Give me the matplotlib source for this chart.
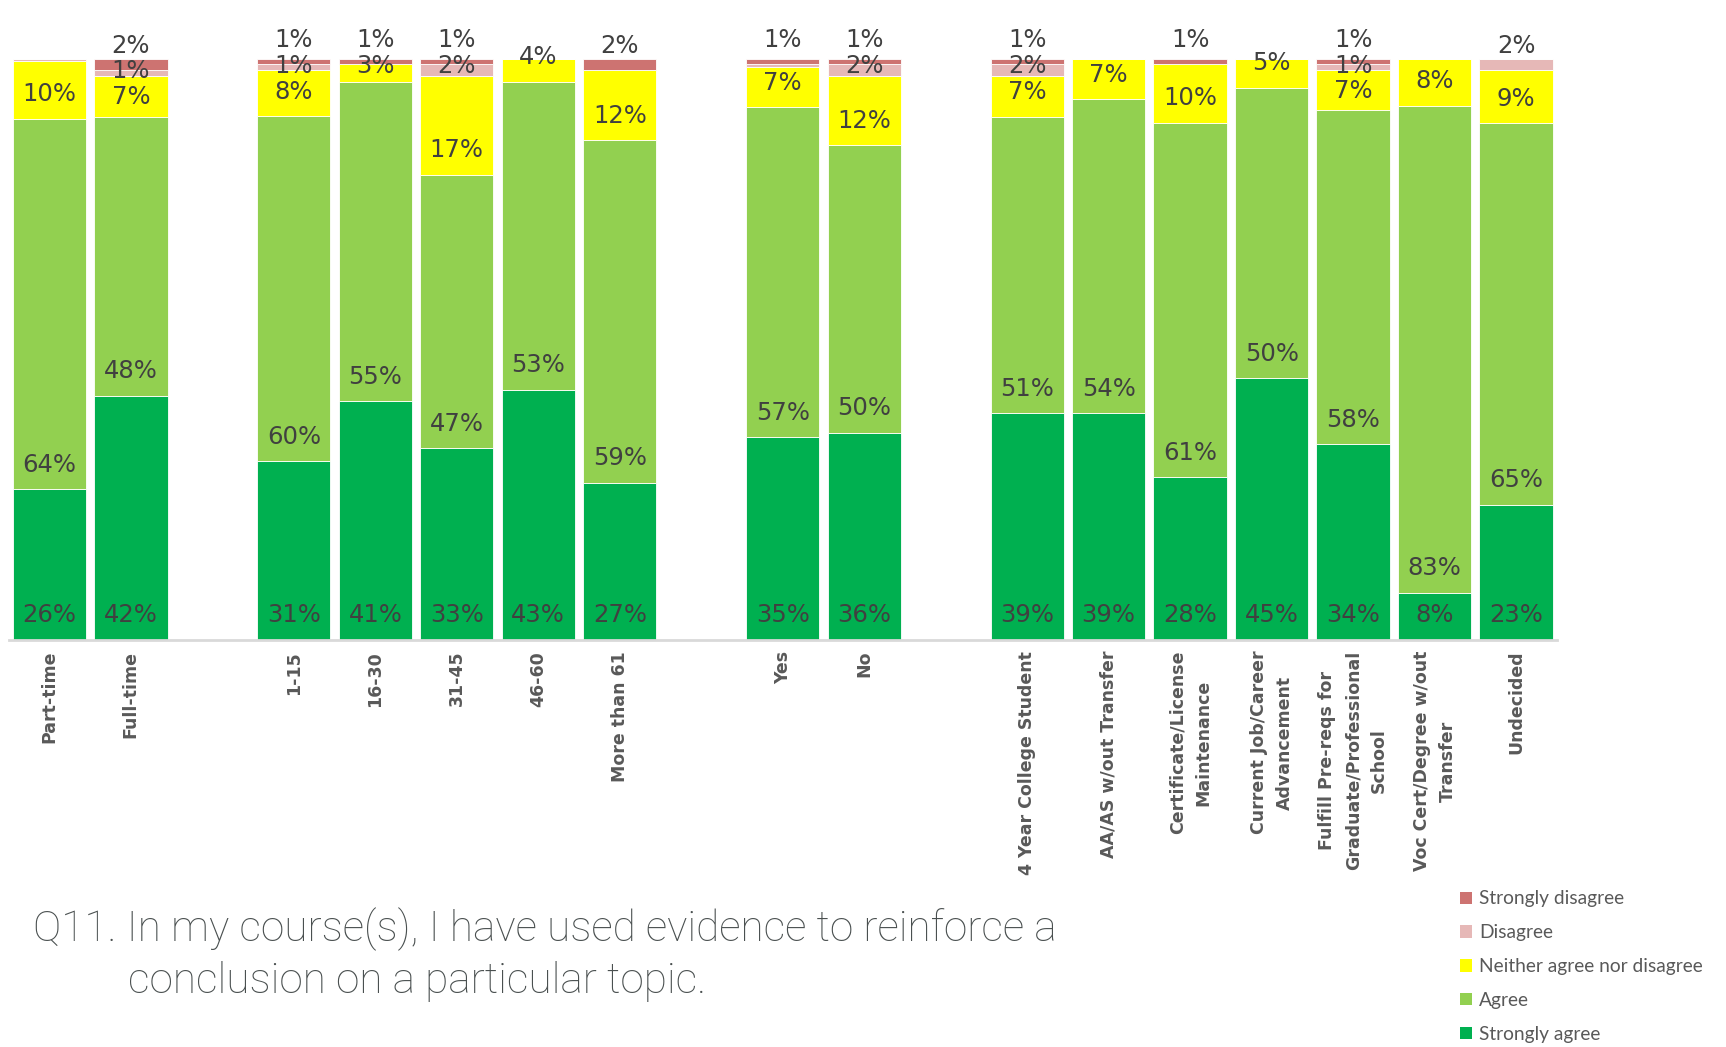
import matplotlib
matplotlib.use("Agg")
import matplotlib.pyplot as plt
from matplotlib.patches import Patch
import numpy as np

# categories, in groups separated by an empty slot
groups = [
    ["Part-time", "Full-time"],
    ["1-15", "16-30", "31-45", "46-60", "More than 61"],
    ["Yes", "No"],
    ["4 Year College Student", "AA/AS w/out Transfer", "Certificate/License\nMaintenance",
     "Current Job/Career\nAdvancement", "Fulfill Pre-reqs for\nGraduate/Professional\nSchool",
     "Voc Cert/Degree w/out\nTransfer", "Undecided"],
]

series = ["Strongly agree", "Agree", "Neither agree nor disagree", "Disagree", "Strongly disagree"]
colors = ["#00B050", "#92D050", "#FFFF00", "#E6B8B7", "#CD7371"]

strongly_agree = [26, 42, 31, 41, 33, 43, 27, 35, 36, 39, 39, 28, 45, 34, 8, 23]
agree = [64, 48, 60, 55, 47, 53, 59, 57, 50, 51, 54, 61, 50, 58, 83, 65]
neither = [10, 7, 8, 3, 17, 4, 12, 7, 12, 7, 7, 10, 5, 7, 8, 9]
disagree = [0.4, 1, 1, 0, 2, 0, 0, 0.4, 2, 2, 0, 0, 0, 1, 0, 2]
strongly_disagree = [0, 2, 1, 1, 1, 0, 2, 1, 1, 1, 0, 1, 0, 1, 0, 0]

title_1 = "Q11. In my course(s), I have used evidence to reinforce a"
title_2 = "conclusion on a particular topic."

# positions with one empty slot between groups
labels, xpos = [], []
slot = 0
for g in groups:
    for name in g:
        labels.append(name)
        xpos.append(slot)
        slot += 1
    slot += 1
xpos = np.array(xpos)

data = np.array([strongly_agree, agree, neither, disagree, strongly_disagree], dtype=float)
pct = data / data.sum(axis=0) * 100

fig = plt.figure(figsize=(17.26, 10.47), dpi=100)
ax = fig.add_axes([0.005, 0.389, 0.897, 0.555])

label_font = ["Liberation Sans Narrow", "DejaVu Sans"]
bottom = np.zeros(len(labels))
for k in range(len(series)):
    ax.bar(xpos, pct[k], 0.9, bottom=bottom, color=colors[k], edgecolor="white",
           linewidth=0.6, label=series[k])
    bottom += pct[k]

# data labels: "inside base", pushed down when they would overlap the one above
base = np.cumsum(pct, axis=0) - pct
for j in range(len(labels)):
    ys = {}
    prev = None
    for k in range(len(series) - 1, -1, -1):
        if data[k, j] < 0.5:
            continue
        y = base[k, j] + 4.2
        if prev is not None:
            y = min(y, prev - 4.4)
        ys[k] = y
        prev = y
    for k, y in ys.items():
        ax.text(xpos[j], y, f"{data[k, j]:.0f}%", ha="center", va="center",
                fontsize=17.5, color="#404040", family=label_font, clip_on=False)

ax.set_xlim(-0.5, slot - 1.5)
ax.set_ylim(0, 100)
ax.set_yticks([])
for s in ["top", "right", "left"]:
    ax.spines[s].set_visible(False)
ax.spines["bottom"].set_color("#D9D9D9")
ax.spines["bottom"].set_linewidth(2)
ax.set_xticks(xpos)
ax.set_xticklabels(labels, rotation=90, fontsize=12.5, fontweight="bold", color="#595959",
                   family="DejaVu Sans", va="top", ha="center", linespacing=1.55)
ax.tick_params(axis="x", length=0, pad=8)

fig.text(0.0192, 0.101, title_1, fontsize=30.5, color="#4A5050", family="Roboto",
         fontweight="light")
fig.text(0.0743, 0.0515, title_2, fontsize=30.5, color="#4A5050", family="Roboto",
         fontweight="light")

handles = [Patch(facecolor=colors[k], label=series[k]) for k in range(len(series) - 1, -1, -1)]
fig.legend(handles=handles, loc="upper left", bbox_to_anchor=(0.836, 0.166), frameon=False,
           handlelength=0.6, handleheight=0.6, handletextpad=0.4, labelspacing=0.88,
           prop={"family": "Lato", "size": 13.8}, labelcolor="#595959")

fig.savefig("out.png", dpi=100)
